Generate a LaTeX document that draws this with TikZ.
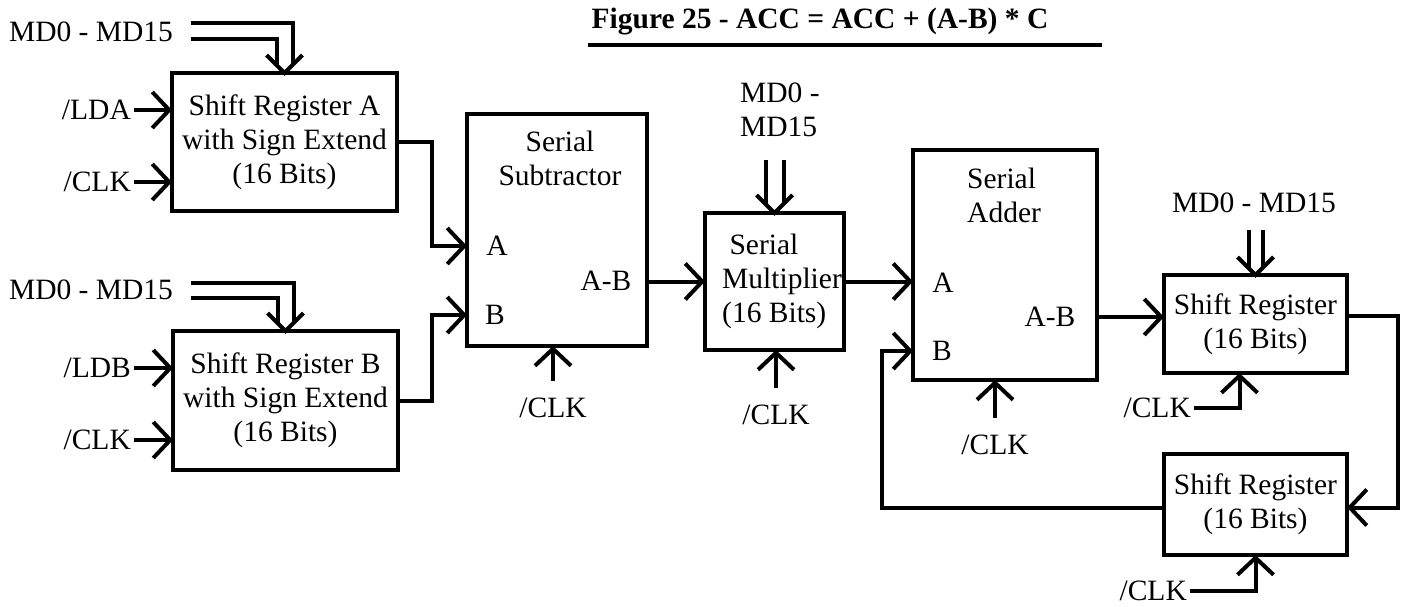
\documentclass[tikz,border=0pt]{standalone}
\usepackage{fontspec}
\setmainfont{Liberation Serif}
\usetikzlibrary{arrows.meta}

\newcommand{\fsz}{\fontsize{29.5}{34}\selectfont}
% double bus arrow head into a block
\newcommand{\busin}[1]{\draw[wire] (#1) ++(-18,-18) -- (#1) -- ++(18,-18);}

\tikzset{
  wire/.style={line width=4pt},
  block/.style={draw, line width=4pt, rectangle, outer sep=0pt, inner sep=0pt, align=center, font=\fsz},
  lbl/.style={inner sep=1pt, font=\fsz},
  pin/.style={inner sep=3pt, font=\fsz, anchor=east},
}

\begin{document}
\begin{tikzpicture}[x=1pt, y=-1pt, >={Straight Barb[length=17pt,width=36pt]}]
    \useasboundingbox (0,0) rectangle (1418,606);

    % Title
    \node[lbl, font=\fsz\bfseries] (ttl) at (820,22) {Figure 25 - ACC = ACC + (A-B) * C};
    \draw[line width=4pt] (588,45) -- (1102,45);

    % Shift register A
    \node[block, minimum width=225pt, minimum height=138pt] (regA) at (284.5,142) {Shift Register A\\with Sign Extend\\(16 Bits)};
    \node[lbl] (mdA) at (91,32) {MD0 - MD15};
    \draw[wire] ([shift={(17,-9)}]mdA.east) -| ([shift={(8,-8)}]regA.north);
    \draw[wire] ([shift={(17,7)}]mdA.east) -| ([shift={(-8,-8)}]regA.north);
    \busin{regA.north}
    \node[pin] (ldA) at (134,110) {/LDA};
    \draw[wire,->] (ldA.east) -- (ldA.east -| regA.west);
    \node[pin] (clkA) at (134,182) {/CLK};
    \draw[wire,->] (clkA.east) -- (clkA.east -| regA.west);

    % Shift register B
    \node[block, minimum width=225pt, minimum height=139pt] (regB) at (285.5,400.5) {Shift Register B\\with Sign Extend\\(16 Bits)};
    \node[lbl] (mdB) at (91,290) {MD0 - MD15};
    \draw[wire] ([shift={(17,-7)}]mdB.east) -| ([shift={(8,-8)}]regB.north);
    \draw[wire] ([shift={(17,8)}]mdB.east) -| ([shift={(-8,-8)}]regB.north);
    \busin{regB.north}
    \node[pin] (ldB) at (134,368) {/LDB};
    \draw[wire,->] (ldB.east) -- (ldB.east -| regB.west);
    \node[pin] (clkB) at (134,440) {/CLK};
    \draw[wire,->] (clkB.east) -- (clkB.east -| regB.west);

    % Serial subtractor
    \node[block, minimum width=180pt, minimum height=232pt] (sub) at (557,230) {};
    \node[lbl, align=center] (subT) at (560,158) {Serial\\Subtractor};
    \node[lbl] (subA) at (497,246) {A};
    \node[lbl] (subB) at (495,315) {B};
    \node[lbl] (subAB) at (606,281) {A-B};
    \draw[wire,->] (regA.east) -- ++(35,0) |- ([shift={(0,16)}]sub.west);
    \draw[wire,->] (regB.east) -- ++(34,0) |- ([shift={(0,85)}]sub.west);
    \node[lbl] (clkS) at (553,408) {/CLK};
    \draw[wire,->] ([shift={(0,-16)}]clkS.north) -- (clkS.north |- sub.south);

    % Serial multiplier
    \node[block, minimum width=139pt, minimum height=137pt] (mul) at (774.5,281.5) {};
    \node[lbl, anchor=west, align=left] (mulT) at (721,281) {~Serial\\Multiplier\\(16 Bits)};
    \node[lbl, anchor=west, align=left] (mdM) at (739,110) {MD0 -\\MD15};
    \draw[wire] ([shift={(-9,-53)}]mul.north) -- ([shift={(-9,-9)}]mul.north);
    \draw[wire] ([shift={(9,-53)}]mul.north) -- ([shift={(9,-9)}]mul.north);
    \busin{mul.north}
    \draw[wire,->] (sub.east |- mul.west) -- (mul.west);
    \node[lbl] (clkM) at (776,415) {/CLK};
    \draw[wire,->] ([shift={(0,-16)}]clkM.north) -- (clkM.north |- mul.south);

    % Serial adder
    \node[block, minimum width=184pt, minimum height=230pt] (add) at (1005,265) {};
    \node[lbl, anchor=west, align=left] (addT) at (966,195) {Serial\\Adder};
    \node[lbl] (addA) at (943,283) {A};
    \node[lbl] (addB) at (942,351) {B};
    \node[lbl] (addAB) at (1050,317) {A-B};
    \draw[wire,->] (mul.east) -- (mul.east -| add.west);
    \node[lbl] (clkAd) at (995,445) {/CLK};
    \draw[wire,->] ([shift={(0,-16)}]clkAd.north) -- (clkAd.north |- add.south);

    % Accumulator registers
    \node[block, minimum width=183pt, minimum height=98pt] (sr1) at (1255.5,324) {Shift Register\\(16 Bits)};
    \node[lbl] (mdS) at (1254,203) {MD0 - MD15};
    \draw[wire] ([shift={(-7,-45)}]sr1.north) -- ([shift={(-7,-7)}]sr1.north);
    \draw[wire] ([shift={(7,-45)}]sr1.north) -- ([shift={(7,-7)}]sr1.north);
    \busin{sr1.north}
    \draw[wire,->] ([shift={(0,52)}]add.east) -- ([shift={(0,-7)}]sr1.west);
    \node[pin] (clk1) at (1194,408) {/CLK};
    \draw[wire,->] (clk1.east) -| ([shift={(-16,0)}]sr1.south);

    \node[block, minimum width=183pt, minimum height=101pt] (sr2) at (1255.5,504.5) {Shift Register\\(16 Bits)};
    \draw[wire,->] ([shift={(0,-8)}]sr1.east) -- ++(51,0) |- ([shift={(0,3)}]sr2.east);
    \node[pin] (clk2) at (1190,591) {/CLK};
    \draw[wire,->] (clk2.east) -| (sr2.south);

    % Feedback into adder
    \draw[wire,->] ([shift={(0,3)}]sr2.west) -| ([shift={(-31,86)}]add.west) -- ([shift={(0,86)}]add.west);
\end{tikzpicture}
\end{document}
